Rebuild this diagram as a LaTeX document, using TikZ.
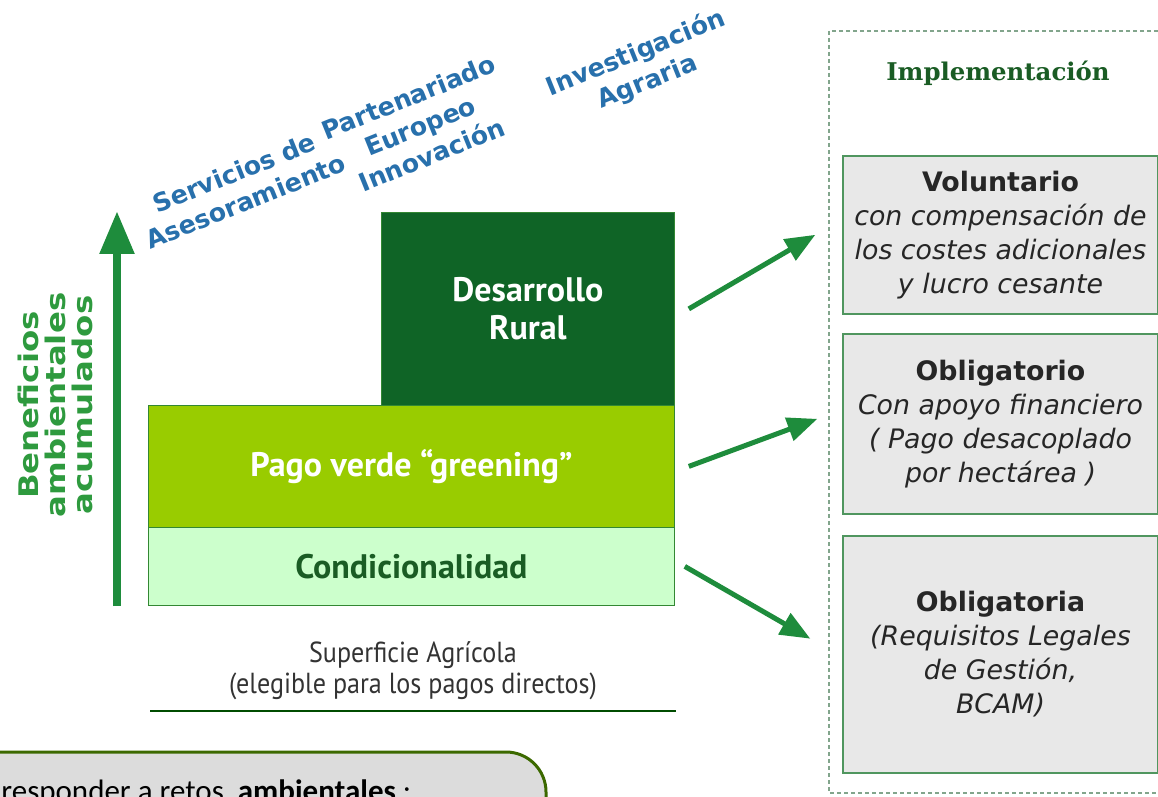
\documentclass[tikz,border=0pt]{standalone}
\usepackage{fontspec}
\setmainfont{DejaVu Sans}
\newfontfamily\titlefont{PT Sans}
\newfontfamily\narrowfont[FakeStretch=0.9]{PT Sans}
\newfontfamily\widefont[FakeStretch=1.2]{DejaVu Sans}
\newfontfamily\headfont{DejaVu Serif}
\newfontfamily\notefont{Carlito}
\usetikzlibrary{arrows, positioning}

\definecolor{ruralgreen}{RGB}{15,100,38}
\definecolor{greeninggreen}{RGB}{153,204,0}
\definecolor{condgreen}{RGB}{204,255,204}
\definecolor{condtext}{RGB}{26,92,36}
\definecolor{arrowgreen}{RGB}{30,140,60}
\definecolor{benefgreen}{RGB}{46,154,62}
\definecolor{toolblue}{RGB}{40,112,172}
\definecolor{optfill}{RGB}{232,232,232}
\definecolor{optedge}{RGB}{80,150,95}
\definecolor{frameedge}{RGB}{130,165,140}
\definecolor{notefill}{RGB}{220,220,220}
\definecolor{noteedge}{RGB}{60,105,0}

\begin{document}
\begin{tikzpicture}[x=0.5pt, y=-0.5pt,
    layer/.style={rectangle, draw=black!45!green!60!gray, line width=0.4pt, anchor=north west,
      inner sep=0pt, align=center, font=\titlefont\bfseries\fontsize{17}{19}\selectfont},
    option/.style={rectangle, draw=optedge, line width=1pt, fill=optfill, anchor=north west,
      inner sep=0pt, minimum width=157.5pt, align=center, text=black!85,
      font=\fontsize{13.4}{17}\selectfont},
    tool/.style={rotate=22, align=center, text=toolblue,
      font=\bfseries\fontsize{12.6}{15.5}\selectfont},
    link/.style={-triangle 45, line width=2.5pt, draw=arrowgreen}]
  \path[use as bounding box] (0,0) rectangle (1158,797);
  \clip (0,0) rectangle (1158,797);

  % piramide de pagos
  \node[layer, fill=condgreen, text=condtext, minimum width=263pt, minimum height=39pt]
    (cond) at (148,527) {Condicionalidad};
  \node[layer, fill=greeninggreen, text=white, minimum width=263pt, minimum height=61pt]
    (greening) at (148,405) {Pago verde “greening”};
  \node[layer, fill=ruralgreen, text=white, minimum width=146.5pt, minimum height=96.5pt]
    (rural) at (381,212) {Desarrollo\\Rural};

  \node[text=black!80, align=center, font=\narrowfont\fontsize{14.5}{15.5}\selectfont]
    (sup) at (413,671) {Superficie Agr\'icola\\(elegible para los pagos directos)};
  \coordinate (supl) at (150,711);
  \coordinate (supr) at (676,711);
  \draw[line width=1pt, draw=black!70!green] (supl) -- (supr);

  % eje vertical
  \coordinate (axbot) at (117,606);
  \coordinate (axtop) at (117,212);
  \draw[-triangle 45, line width=4pt, draw=arrowgreen] (axbot) -- (axtop);
  \node[rotate=90, text=benefgreen, align=center, font=\widefont\bfseries\fontsize{13.5}{13.5}\selectfont]
    (benef) at (55,405) {Beneficios\\ambientales\\acumulados};

  % herramientas
  \node[tool] (advice) at (240,187) {Servicios de\\Asesoramiento};
  \node[tool] (eip) at (420,126) {Partenariado\\Europeo\\Innovaci\'on};
  \node[tool] (research) at (642,68) {Investigaci\'on\\Agraria};

  % implementacion
  \draw[dash pattern=on 2pt off 1.5pt, line width=0.6pt, draw=frameedge]
    (1200,31) -- (829,31) -- (829,793) -- (1200,793);
  \node[text=condtext, font=\headfont\bfseries\fontsize{12.2}{15}\selectfont]
    (impl) at (998,73) {Implementaci\'on};

  \node[option, minimum height=79pt] (volunt) at (842,155)
    {\textbf{Voluntario}\\\textit{con compensaci\'on de}\\\textit{los costes adicionales}\\\textit{y lucro cesante}};
  \node[option, minimum height=90pt] (oblig) at (842,333)
    {\textbf{Obligatorio}\\\textit{Con apoyo financiero}\\\textit{( Pago desacoplado}\\\textit{por hect\'area )}};
  \node[option, minimum height=118.5pt] (obliga) at (842,535)
    {\textbf{Obligatoria}\\\textit{(Requisitos Legales}\\\textit{de Gesti\'on,}\\\textit{BCAM)}};

  \draw[link] ([xshift=7pt]rural.east) -- ([shift={(-27,0)}]volunt.west);
  \draw[link] ([xshift=7pt]greening.east) -- ([shift={(-25,-5)}]oblig.west);
  \draw[link] ([xshift=5pt]cond.east) -- ([shift={(-32,-16)}]obliga.west);

  % nota
  \draw[line width=1.5pt, draw=noteedge, fill=notefill, rounded corners=20pt]
    (-40,752) rectangle (546,880);
  \node[anchor=base west, inner sep=0pt, text=black, font=\notefont\fontsize{15.5}{17}\selectfont]
    (note) at (1,801) {responder a retos\ \ \textbf{ambientales} :};
\end{tikzpicture}
\end{document}
